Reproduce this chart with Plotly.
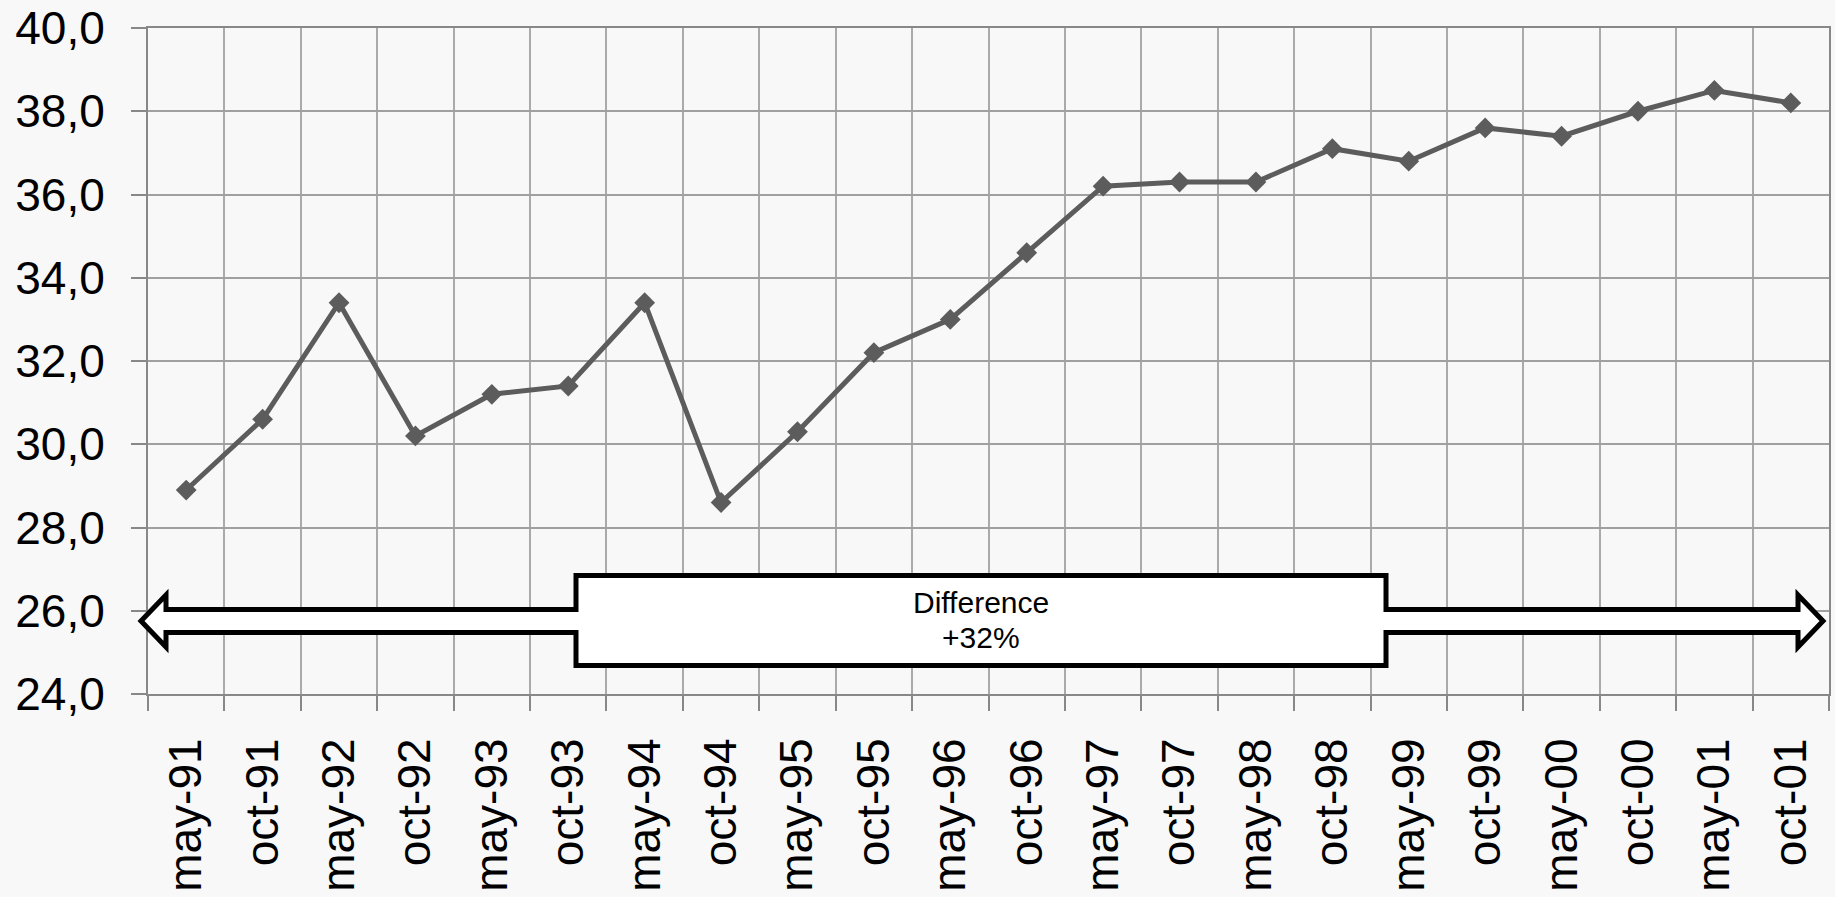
import plotly.graph_objects as go

categories = ["may-91", "oct-91", "may-92", "oct-92", "may-93", "oct-93", "may-94", "oct-94",
              "may-95", "oct-95", "may-96", "oct-96", "may-97", "oct-97", "may-98", "oct-98",
              "may-99", "oct-99", "may-00", "oct-00", "may-01", "oct-01"]
values = [28.9, 30.6, 33.4, 30.2, 31.2, 31.4, 33.4, 28.6,
          30.3, 32.2, 33.0, 34.6, 36.2, 36.3, 36.3, 37.1,
          36.8, 37.6, 37.4, 38.0, 38.5, 38.2]
annotation_lines = ["Difference", "+32%"]

W, H = 1835, 897
L, R, T, B = 148, 6, 28, 203
PW, PH = W - L - R, H - T - B


def px(x):
    return (x - L) / PW


def py(y):
    return (H - B - y) / PH


# double-headed block arrow with a label box (pixel geometry)
pts = [(141, 621), (166, 595), (166, 609.5), (576, 609.5), (576, 575.5), (1386, 575.5),
       (1386, 609.5), (1798, 609.5), (1798, 595), (1823, 621), (1798, 647), (1798, 632.5),
       (1386, 632.5), (1386, 665.5), (576, 665.5), (576, 632.5), (166, 632.5), (166, 647)]
path = "M " + " L ".join(f"{px(x):.5f},{py(y):.5f}" for x, y in pts) + " Z"

fig = go.Figure()
fig.add_trace(go.Scatter(
    x=categories, y=values, mode="lines+markers",
    line=dict(color="#5c5c5c", width=5),
    marker=dict(symbol="diamond", size=16, color="#5c5c5c"),
    showlegend=False, cliponaxis=False,
))

fig.add_shape(type="path", path=path, xref="paper", yref="paper",
              fillcolor="white", line=dict(color="black", width=5), layer="above")
for txt, ypix in zip(annotation_lines, [602, 637]):
    fig.add_annotation(x=px(981), y=py(ypix), xref="paper", yref="paper",
                       xanchor="center", yanchor="middle",
                       text=txt, showarrow=False,
                       font=dict(family="Liberation Sans, Arial", size=30, color="black"))

fig.update_layout(
    width=W, height=H,
    margin=dict(l=L, r=R, t=T, b=B, pad=0),
    paper_bgcolor="#f8f8f8", plot_bgcolor="#f8f8f8",
    font=dict(family="Liberation Sans, Arial", size=46, color="black"),
    separators=",.",
)
fig.update_xaxes(
    type="category", range=[-0.5, 21.5], tickson="boundaries",
    showgrid=True, gridcolor="#aaaaaa", gridwidth=2,
    showline=True, linecolor="#888888", linewidth=2, mirror=True,
    ticks="outside", ticklen=15, tickcolor="#888888", tickwidth=2,
    tickangle=-90, ticklabelstandoff=24, automargin=False,
    tickfont=dict(size=46),
)
fig.update_yaxes(
    range=[24, 40], dtick=2, tick0=24, tickformat=".1f",
    showgrid=True, gridcolor="#a0a0a0", gridwidth=2,
    showline=True, linecolor="#888888", linewidth=2, mirror=True,
    ticks="outside", ticklen=15, tickcolor="#888888", tickwidth=2,
    ticklabelstandoff=17, zeroline=False, automargin=False,
    tickfont=dict(size=46),
)

fig.write_html("out.html", config={"displayModeBar": False},
               post_script="document.body.style.margin='0';document.body.style.overflow='hidden';")
